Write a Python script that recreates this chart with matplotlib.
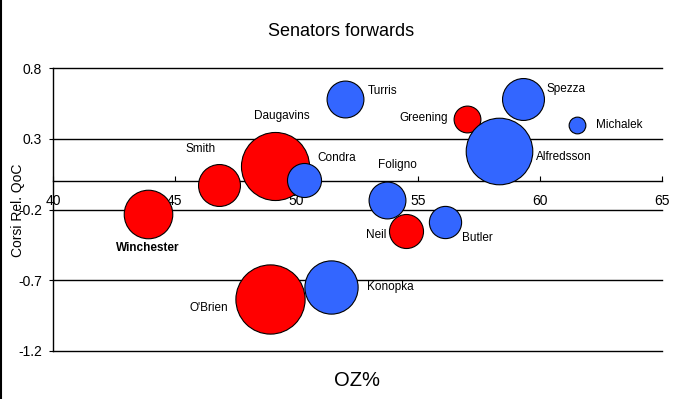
import matplotlib
matplotlib.use("Agg")
import matplotlib.pyplot as plt
from matplotlib.lines import Line2D

plt.rcParams['font.family'] = ['Liberation Sans', 'DejaVu Sans']

# datos
players = ['Winchester', 'Smith', 'Daugavins', 'Turris', 'Greening', 'Spezza',
           'Michalek', 'Alfredsson', 'Condra', 'Foligno', 'Neil', 'Butler',
           "O'Brien", 'Konopka']
oz_pct = [43.9, 46.8, 49.1, 52.0, 57.0, 59.3,
          61.5, 58.3, 50.3, 53.7, 54.5, 56.1,
          48.9, 51.4]
corsi_qoc = [-0.23, -0.03, 0.11, 0.58, 0.44, 0.58,
             0.40, 0.21, 0.01, -0.13, -0.35, -0.29,
             -0.83, -0.75]
bubble_size = [59, 44, 116, 34, 18, 44,
               7, 111, 29, 34, 29, 26,
               120, 71]
team_color = ['red', 'red', 'red', 'blue', 'red', 'blue',
              'blue', 'blue', 'blue', 'blue', 'red', 'blue',
              'red', 'blue']

x_ticks = [40, 45, 50, 55, 60, 65]
y_ticks = [-1.2, -0.7, -0.2, 0.3, 0.8]

colores = {'red': '#FF0000', 'blue': '#3366FF'}

# posicion de cada etiqueta respecto a la burbuja (puntos) y alineacion
offsets = {
    'Winchester': (0, -25, 'center'),
    'Smith': (-13, 26, 'center'),
    'Daugavins': (5, 36, 'center'),
    'Condra': (10, 16, 'left'),
    'Turris': (16, 6, 'left'),
    'Greening': (-14, 1, 'right'),
    'Foligno': (8, 25, 'center'),
    'Neil': (-14, -3, 'right'),
    'Butler': (12, -11, 'left'),
    'Spezza': (17, 7, 'left'),
    'Michalek': (14, 0, 'left'),
    'Alfredsson': (27, -4, 'left'),
    "O'Brien": (-30, -7, 'right'),
    'Konopka': (26, 0, 'left'),
}

fig = plt.figure(figsize=(6.82, 3.99), dpi=100)
ax = fig.add_axes([53 / 682, 1 - 351 / 399, 609 / 682, 283 / 399])

for i in range(len(players)):
    ax.scatter(oz_pct[i], corsi_qoc[i], s=bubble_size[i] * 20.7,
               color=colores[team_color[i]], edgecolor='black', linewidth=0.8,
               zorder=3 + i, clip_on=False)
    dx, dy, ha = offsets[players[i]]
    peso = 'bold' if players[i] == 'Winchester' else 'normal'
    ax.annotate(players[i], (oz_pct[i], corsi_qoc[i]), xytext=(dx, dy),
                textcoords='offset points', ha=ha, va='center',
                fontsize=8.5, fontweight=peso, zorder=30)

ax.set_xlim(40, 65)
ax.set_ylim(-1.2, 0.8)
ax.set_xticks(x_ticks)
ax.set_yticks(y_ticks)
ax.set_yticklabels([str(v) for v in y_ticks])

for v in y_ticks:
    ax.axhline(v, color='black', linewidth=1, zorder=1, clip_on=False)

ax.spines['bottom'].set_position(('data', 0))
ax.spines['top'].set_visible(False)
ax.spines['right'].set_visible(False)
ax.spines['left'].set_linewidth(1)
ax.spines['bottom'].set_linewidth(1)
ax.tick_params(axis='x', direction='in', length=3.6, pad=9, labelsize=10)
ax.tick_params(axis='y', direction='out', length=3, pad=5, labelsize=10)

fig.text(341 / 682, 1 - 31 / 399, 'Senators forwards', ha='center', va='center',
         fontsize=13)
fig.text(357 / 682, 1 - 380 / 399, 'OZ%', ha='center', va='center', fontsize=14.5)
fig.text(18 / 682, 1 - 210 / 399, 'Corsi Rel. QoC', ha='center', va='center',
         rotation=90, fontsize=10)

# borde izquierdo de la figura
fig.add_artist(Line2D([0.002, 0.002], [0, 1], color='black', linewidth=1.5,
                      transform=fig.transFigure))

plt.savefig('out.png', dpi=100)
